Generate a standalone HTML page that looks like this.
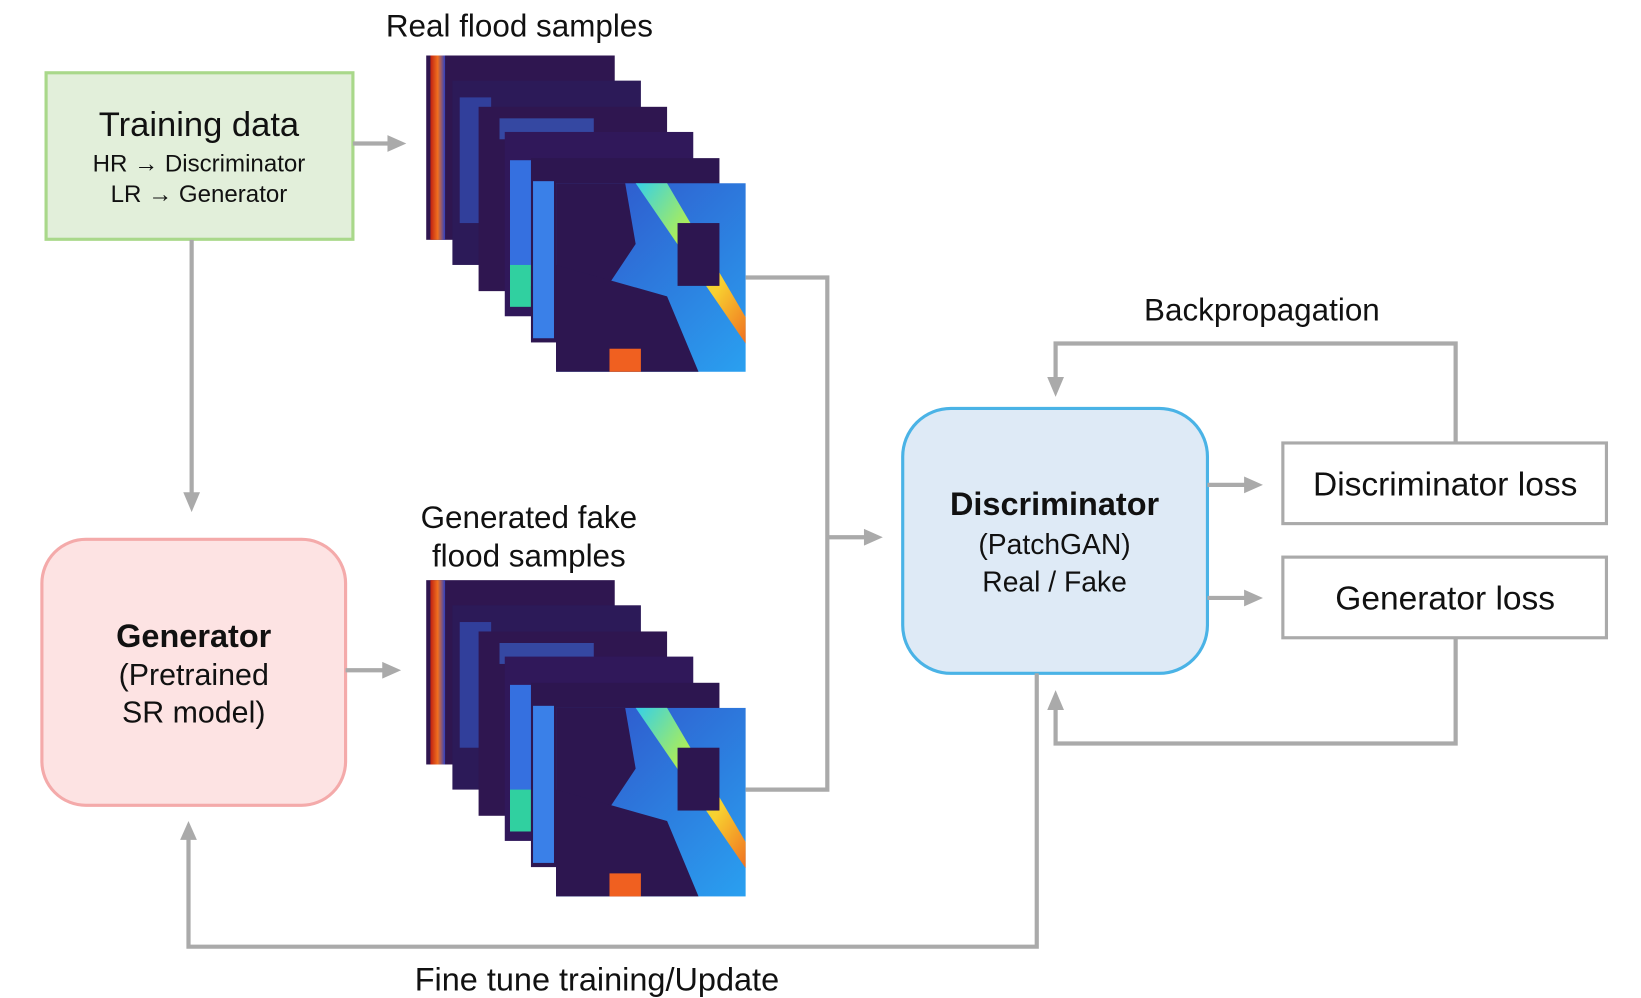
<!DOCTYPE html>
<html><head><meta charset="utf-8"><style>
html,body{margin:0;padding:0;background:#fff;}
svg{display:block;}
text{font-family:"Liberation Sans",sans-serif;fill:#111;}
</style></head><body>
<svg width="1641" height="998" viewBox="0 0 1567 953" preserveAspectRatio="none" xmlns="http://www.w3.org/2000/svg">
<defs>
<linearGradient id="band" x1="0" y1="0" x2="1" y2="1">
<stop offset="0" stop-color="#35d0e8"/><stop offset="0.4" stop-color="#b8f04a"/><stop offset="0.7" stop-color="#f8d030"/><stop offset="1" stop-color="#f07020"/></linearGradient>
<linearGradient id="bg" x1="0" y1="0" x2="1" y2="1">
<stop offset="0" stop-color="#3050c8"/><stop offset="1" stop-color="#2aa0f0"/></linearGradient>
<linearGradient id="red" x1="0" y1="0" x2="1" y2="0">
<stop offset="0" stop-color="#c02010"/><stop offset="0.5" stop-color="#f07020"/><stop offset="1" stop-color="#3040c0"/></linearGradient>
<g id="stack">
<rect x="0" y="0" width="180" height="176" fill="#2f1650"/>
<rect x="4" y="0" width="14" height="176" fill="url(#red)"/>
<rect x="25" y="24" width="180" height="176" fill="#2c1a58"/>
<rect x="32" y="40" width="30" height="120" fill="#3558c8" opacity="0.6"/>
<rect x="50" y="49" width="180" height="176" fill="#2f1650"/>
<rect x="70" y="60" width="90" height="20" fill="#3a6ad8" opacity="0.6"/>
<rect x="75" y="73" width="180" height="176" fill="#30185a"/>
<rect x="80" y="100" width="25" height="120" fill="#3570e0"/>
<rect x="80" y="200" width="20" height="40" fill="#30d0a0"/>
<rect x="100" y="98" width="180" height="176" fill="#2d1650"/>
<rect x="102" y="120" width="20" height="150" fill="#3a80e8"/>
<rect x="124" y="122" width="181" height="180" fill="url(#bg)"/>
<polygon points="124,122 190,122 200,180 160,240 124,300" fill="#2d1650"/>
<polygon points="124,200 230,230 260,302 124,302" fill="#2d1650"/>
<polygon points="200,122 230,122 305,250 305,275" fill="url(#band)"/>
<rect x="240" y="160" width="40" height="60" fill="#2d1650"/>
<rect x="175" y="280" width="30" height="22" fill="#f06020"/>
</g>
</defs>
<rect x="44" y="69.5" width="293" height="159" fill="#e2efda" stroke="#a9d88a" stroke-width="3"/>
<text x="190" y="130" font-size="33" text-anchor="middle">Training data</text>
<text x="190" y="164" font-size="23" text-anchor="middle">HR → Discriminator</text>
<text x="190" y="193" font-size="23" text-anchor="middle">LR → Generator</text>
<text x="496" y="35" font-size="30" text-anchor="middle">Real flood samples</text>
<use href="#stack" x="407" y="53"/>
<text x="505" y="504" font-size="30" text-anchor="middle">Generated fake</text>
<text x="505" y="541" font-size="30" text-anchor="middle">flood samples</text>
<use href="#stack" x="407" y="554"/>
<rect x="40" y="515" width="290" height="254" rx="42" fill="#fde3e3" stroke="#f4aaaa" stroke-width="3"/>
<text x="185" y="618" font-size="31" font-weight="bold" text-anchor="middle">Generator</text>
<text x="185" y="654" font-size="29" text-anchor="middle">(Pretrained</text>
<text x="185" y="690" font-size="29" text-anchor="middle">SR model)</text>
<rect x="862" y="390" width="291" height="253" rx="46" fill="#deeaf6" stroke="#4ab3e6" stroke-width="3"/>
<text x="1007" y="492" font-size="31" font-weight="bold" text-anchor="middle">Discriminator</text>
<text x="1007" y="529" font-size="27" text-anchor="middle">(PatchGAN)</text>
<text x="1007" y="565" font-size="27" text-anchor="middle">Real / Fake</text>
<rect x="1225" y="423" width="309" height="77" fill="#fff" stroke="#aaa" stroke-width="3"/>
<text x="1380" y="473" font-size="32" text-anchor="middle">Discriminator loss</text>
<rect x="1225" y="532" width="309" height="77" fill="#fff" stroke="#aaa" stroke-width="3"/>
<text x="1380" y="582" font-size="32" text-anchor="middle">Generator loss</text>
<text x="1205" y="306" font-size="30" text-anchor="middle">Backpropagation</text>
<text x="570" y="946" font-size="31" text-anchor="middle">Fine tune training/Update</text>
<g fill="none" stroke="#aaa" stroke-width="4">
<path d="M337 137 H372"/>
<path d="M183 229 V472"/>
<path d="M330 640 H367"/>
<path d="M712 265 H790 V754 H712"/>
<path d="M790 513 H827"/>
<path d="M1153 463 H1190"/>
<path d="M1153 571 H1190"/>
<path d="M1390 422 V328 H1008 V362"/>
<path d="M1390 609 V710 H1008 V676"/>
<path d="M990 643 V904 H180 V800"/>
</g>
<g fill="#aaa">
<polygon points="370,129 388,137 370,145"/>
<polygon points="175,470 183,489 191,470"/>
<polygon points="365,632 383,640 365,648"/>
<polygon points="825,505 843,513 825,521"/>
<polygon points="1188,455 1206,463 1188,471"/>
<polygon points="1188,563 1206,571 1188,579"/>
<polygon points="1000,360 1008,379 1016,360"/>
<polygon points="1000,678 1008,659 1016,678"/>
<polygon points="172,802 180,784 188,802"/>
</g>
</svg>
</body></html>
